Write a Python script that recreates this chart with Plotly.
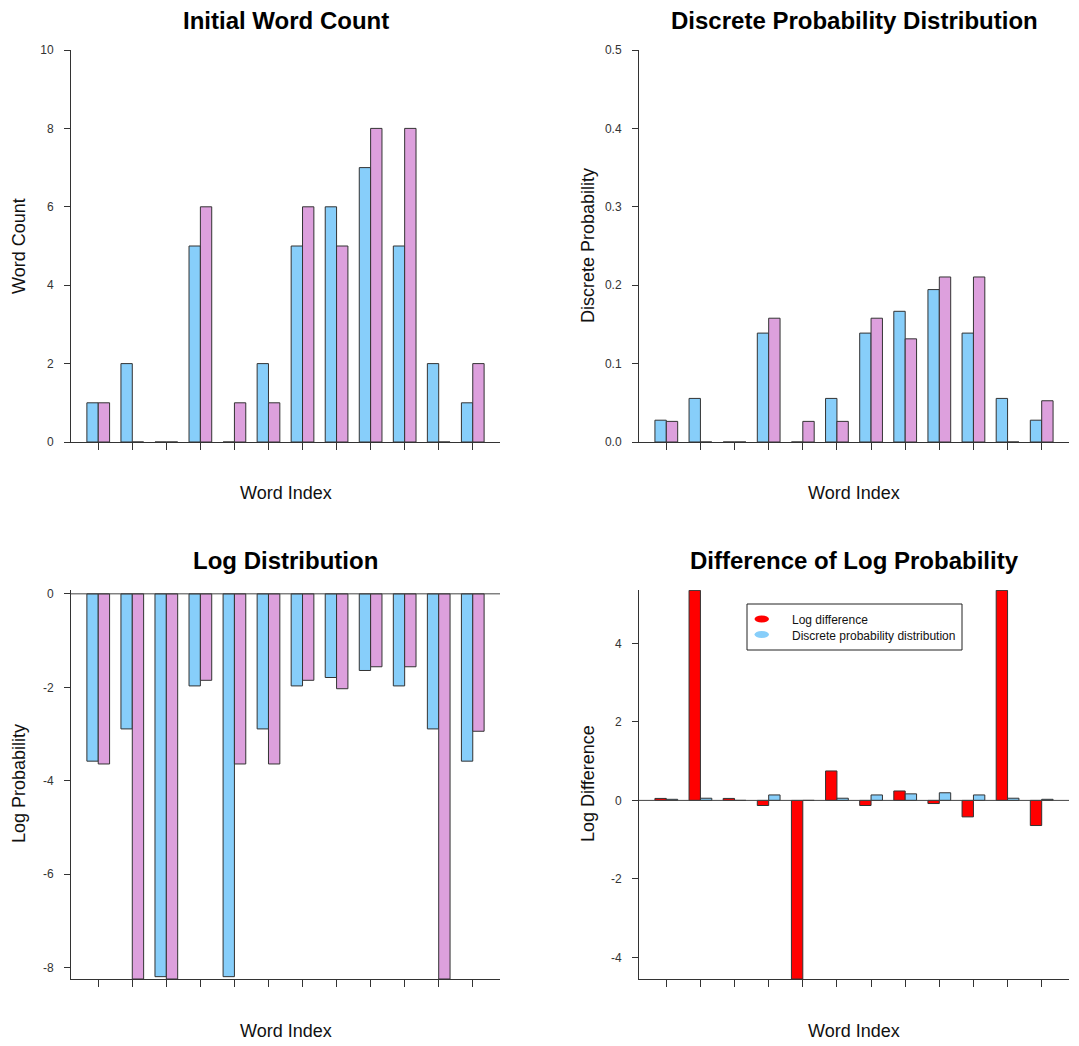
import plotly.graph_objects as go

# ---------------- data ----------------
word_index = [1, 2, 3, 4, 5, 6, 7, 8, 9, 10, 11, 12]
count_a = [1, 2, 0, 5, 0, 2, 5, 6, 7, 5, 2, 1]
count_b = [1, 0, 0, 6, 1, 1, 6, 5, 8, 8, 0, 2]
prob_a = [0.0278, 0.0556, 0.0, 0.1389, 0.0, 0.0556, 0.1389, 0.1667, 0.1944, 0.1389, 0.0556, 0.0278]
prob_b = [0.0263, 0.0, 0.0, 0.1579, 0.0263, 0.0263, 0.1579, 0.1316, 0.2105, 0.2105, 0.0, 0.0526]
log_a = [-3.58, -2.89, -8.19, -1.97, -8.19, -2.89, -1.97, -1.79, -1.64, -1.97, -2.89, -3.58]
log_b = [-3.64, -8.24, -8.24, -1.85, -3.64, -3.64, -1.85, -2.03, -1.56, -1.56, -8.24, -2.94]
log_diff = [0.05, 5.35, 0.05, -0.13, -4.55, 0.75, -0.13, 0.24, -0.08, -0.42, 5.35, -0.64]

y1_ticks = [0, 2, 4, 6, 8, 10]
y1_text = ["0", "2", "4", "6", "8", "10"]
y2_ticks = [0.0, 0.1, 0.2, 0.3, 0.4, 0.5]
y2_text = ["0.0", "0.1", "0.2", "0.3", "0.4", "0.5"]
y3_ticks = [0, -2, -4, -6, -8]
y3_text = ["0", "-2", "-4", "-6", "-8"]
y4_ticks = [-4, -2, 0, 2, 4]
y4_text = ["-4", "-2", "0", "2", "4"]

BLUE = "#87CEFA"
PINK = "#DDA0DD"
RED = "#FF0000"
EDGE = "#333333"
FONT = "Liberation Sans, Arial, sans-serif"

W, H = 1079, 1046


def px(x):
    return x / W


def py(y):
    return 1 - y / H


fig = go.Figure()


def add_pair(vals1, vals2, c1, c2, xa, ya, n1, n2):
    fig.add_trace(go.Bar(x=word_index, y=vals1, width=1 / 3, offset=-1 / 3,
                         marker=dict(color=c1, line=dict(color=EDGE, width=1)),
                         xaxis=xa, yaxis=ya, name=n1, showlegend=False))
    fig.add_trace(go.Bar(x=word_index, y=vals2, width=1 / 3, offset=0,
                         marker=dict(color=c2, line=dict(color=EDGE, width=1)),
                         xaxis=xa, yaxis=ya, name=n2, showlegend=False))


add_pair(count_a, count_b, BLUE, PINK, "x", "y", "A", "B")
add_pair(prob_a, prob_b, BLUE, PINK, "x2", "y2", "A", "B")
add_pair(log_a, log_b, BLUE, PINK, "x3", "y3", "A", "B")
add_pair(log_diff, prob_a, RED, BLUE, "x4", "y4", "Log difference", "Discrete probability distribution")

xl = [px(71), px(500)]
xr = [px(639), px(1069)]
yt = [py(442), py(50)]
yb = [py(979), py(590)]

xcommon = dict(range=[0.2, 12.8], tickvals=word_index, showticklabels=False,
               ticks="outside", ticklen=7, tickcolor=EDGE, showline=True,
               linecolor=EDGE, linewidth=1, showgrid=False, zeroline=False,
               fixedrange=True, automargin=False)
ycommon = dict(ticks="outside", ticklen=6, tickcolor=EDGE, showline=True,
               linecolor=EDGE, linewidth=1, showgrid=False, zeroline=False,
               tickfont=dict(size=12, color="#333333", family=FONT),
               ticklabelstandoff=8, fixedrange=True, automargin=False)

fig.update_layout(
    width=W, height=H,
    margin=dict(l=0, r=0, t=0, b=0, pad=0, autoexpand=False),
    paper_bgcolor="white", plot_bgcolor="white",
    barmode="overlay",
    font=dict(family=FONT, color="#111111"),
    xaxis=dict(domain=xl, anchor="y", **xcommon),
    xaxis2=dict(domain=xr, anchor="y2", **xcommon),
    xaxis3=dict(domain=xl, anchor="y3", **xcommon),
    xaxis4=dict(domain=xr, anchor="y4", **xcommon),
    yaxis=dict(domain=yt, anchor="x", range=[0, 10], tickvals=y1_ticks,
               ticktext=y1_text, **ycommon),
    yaxis2=dict(domain=yt, anchor="x2", range=[0, 0.5], tickvals=y2_ticks,
                ticktext=y2_text, **ycommon),
    yaxis3=dict(domain=yb, anchor="x3", range=[-8.24, 0.082], tickvals=y3_ticks,
                ticktext=y3_text, **ycommon),
    yaxis4=dict(domain=yb, anchor="x4", range=[-4.55, 5.36], tickvals=y4_ticks,
                ticktext=y4_text, **ycommon),
)

shapes = []
# zero lines
for xa, ya in [("x3", "y3"), ("x4", "y4")]:
    shapes.append(dict(type="line", xref=f"{xa} domain", yref=ya, x0=0, x1=1, y0=0, y1=0,
                       line=dict(color="#444444", width=1), layer="above"))

annotations = []
# titles
for text, cx, cy in [("Initial Word Count", 285.5, 20),
                     ("Discrete Probability Distribution", 854, 20),
                     ("Log Distribution", 285.5, 560),
                     ("Difference of Log Probability", 854, 560)]:
    annotations.append(dict(text=f"<b>{text}</b>", x=px(cx), y=py(cy), xref="paper", yref="paper",
                            xanchor="center", yanchor="middle", showarrow=False,
                            font=dict(size=24, family=FONT, color="#000000")))
# x axis titles
for cx, cy in [(285.5, 493), (854, 493), (285.5, 1031), (854, 1031)]:
    annotations.append(dict(text="Word Index", x=px(cx), y=py(cy), xref="paper", yref="paper",
                            xanchor="center", yanchor="middle", showarrow=False,
                            font=dict(size=18, family=FONT, color="#111111")))
# y axis titles
for text, cx, cy in [("Word Count", 19, 246), ("Discrete Probability", 588, 246),
                     ("Log Probability", 19, 784), ("Log Difference", 588, 784)]:
    annotations.append(dict(text=text, x=px(cx), y=py(cy), xref="paper", yref="paper",
                            xanchor="center", yanchor="middle", showarrow=False, textangle=-90,
                            font=dict(size=18, family=FONT, color="#111111")))

# manual legend
shapes.append(dict(type="rect", xref="paper", yref="paper", x0=px(747), x1=px(962),
                   y0=py(650), y1=py(604), line=dict(color="#222222", width=1),
                   fillcolor="white", layer="above"))
for col, cy in [(RED, 619), (BLUE, 634.5)]:
    shapes.append(dict(type="circle", xref="paper", yref="paper", x0=px(754.5), x1=px(769),
                       y0=py(cy + 3.5), y1=py(cy - 3.5), line=dict(width=0), fillcolor=col,
                       layer="above"))
for text, cy in [("Log difference", 620), ("Discrete probability distribution", 635.5)]:
    annotations.append(dict(text=text, x=px(790), y=py(cy), xref="paper", yref="paper",
                            xanchor="left", yanchor="middle", showarrow=False,
                            font=dict(size=12, family=FONT, color="#111111")))

fig.update_layout(shapes=shapes, annotations=annotations)

fig.write_html("out.html")
